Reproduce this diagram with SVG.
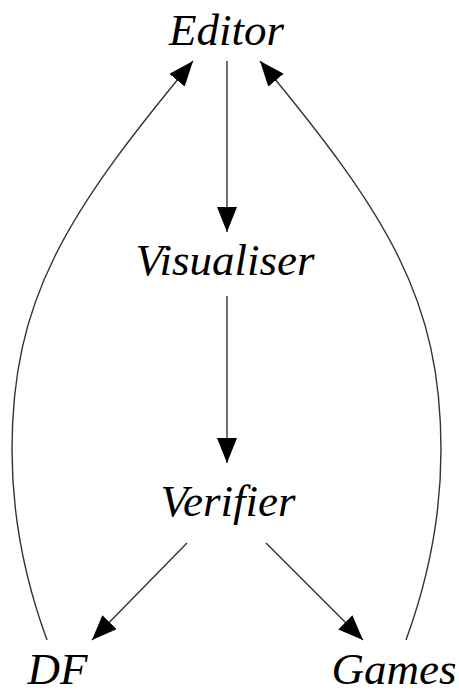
<svg xmlns="http://www.w3.org/2000/svg" width="459" height="695" viewBox="0 0 459 695">
  <style>
    .lbl { font-family: "Liberation Serif", "DejaVu Serif", serif; font-style: italic; font-size: 45px; fill: #000; text-anchor: middle; }
    .edge { fill: none; stroke: #333; stroke-width: 1.4; marker-end: url(#head); }
  </style>
  <defs>
    <marker id="head" markerUnits="userSpaceOnUse" markerWidth="26" markerHeight="22" refX="25" refY="10" orient="auto">
      <path d="M0,0 L25,10 L0,20 Z" fill="#000"/>
    </marker>
  </defs>
  <rect width="459" height="695" fill="#fff"/>

  <g id="connectors">
    <path class="edge" d="M227,61 L227,232"/>
    <path class="edge" d="M227,296 L227,463"/>
    <path class="edge" d="M187,543 L92,640"/>
    <path class="edge" d="M266,543 L363,640"/>
    <path class="edge" d="M47,640 C25,580 12,515 12,450 C12,300 65,215 193,61"/>
    <path class="edge" d="M406,640 C428,580 441,515 441,450 C441,300 388,215 260,61"/>
  </g>

  <g id="editor"><text class="lbl" x="226.5" y="45">Editor</text></g>
  <g id="visualiser"><text class="lbl" x="225" y="275">Visualiser</text></g>
  <g id="verifier"><text class="lbl" x="228" y="516">Verifier</text></g>
  <g id="df"><text class="lbl" x="57.5" y="684">DF</text></g>
  <g id="games"><text class="lbl" x="394" y="684">Games</text></g>
</svg>
